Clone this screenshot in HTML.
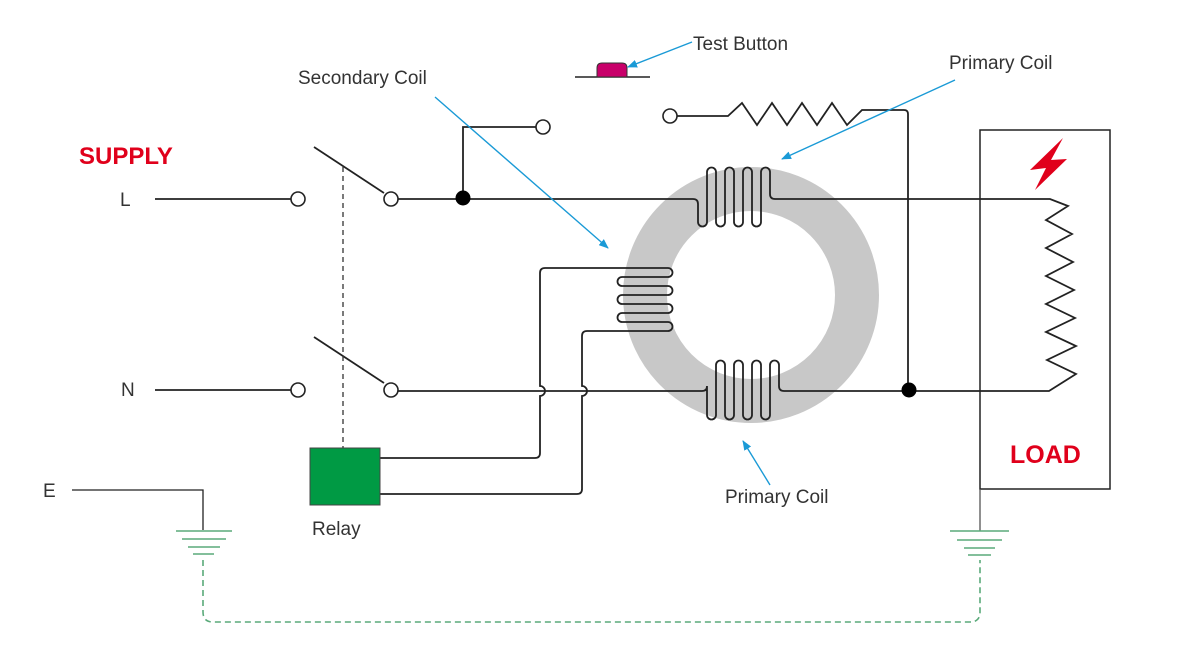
<!DOCTYPE html>
<html><head><meta charset="utf-8"><style>
body{margin:0;background:#fff}
svg{display:block}
text{font-family:"Liberation Sans",sans-serif}
</style></head><body>
<svg width="1200" height="661" viewBox="0 0 1200 661" xmlns="http://www.w3.org/2000/svg">
<defs><marker id="ar" markerWidth="10" markerHeight="8" refX="9" refY="4" orient="auto" markerUnits="userSpaceOnUse"><path d="M0,0 L10,4 L0,8 Z" fill="#1a9ad6"/></marker></defs>
<circle cx="751" cy="295" r="106" fill="none" stroke="#c8c8c8" stroke-width="44"/>
<g fill="none" stroke="#222" stroke-width="1.8">
<path d="M155 199 H291"/><path d="M398 199 H693 q5 0 5 5 V222 a4.5 4.5 0 0 0 9 0 V172 a4.5 4.5 0 0 1 9 0 V222 a4.5 4.5 0 0 0 9 0 V172 a4.5 4.5 0 0 1 9 0 V222 a4.5 4.5 0 0 0 9 0 V172 a4.5 4.5 0 0 1 9 0 V222 a4.5 4.5 0 0 0 9 0 V172 a4.5 4.5 0 0 1 9 0 V194 q0 5 5 5 H1050 L1068 206 L1046 220 L1072 234 L1046 248 L1073 262 L1046 276 L1074 290 L1046 304 L1075 318 L1046 332 L1076 346 L1047 360 L1076 374 L1049 391 H784 q-5 0 -5 -5 V365 a4.5 4.5 0 0 0 -9 0 V415 a4.5 4.5 0 0 1 -9 0 V365 a4.5 4.5 0 0 0 -9 0 V415 a4.5 4.5 0 0 1 -9 0 V365 a4.5 4.5 0 0 0 -9 0 V415 a4.5 4.5 0 0 1 -9 0 V365 a4.5 4.5 0 0 0 -9 0 V415 a4.5 4.5 0 0 1 -9 0 V386 q0 5 -5 5 H398"/>
<path d="M155 390 H291"/>
<path d="M314 147 L384 193"/><path d="M314 337 L384 383"/>
<path d="M463 199 V127 H536"/>
<path d="M677 116 H728 L742 103 L757 125 L772 103 L787 125 L802 103 L817 125 L832 103 L847 125 L862 110 H904 q4 0 4 4 V391"/>
<path d="M380 458 H535 q5 0 5 -5 V396 a5 5 0 0 0 0 -10 V273 q0 -5 5 -5 H668 a4.5 4.5 0 0 1 0 9 H622 a4.5 4.5 0 0 0 0 9 H668 a4.5 4.5 0 0 1 0 9 H622 a4.5 4.5 0 0 0 0 9 H668 a4.5 4.5 0 0 1 0 9 H622 a4.5 4.5 0 0 0 0 9 H668 a4.5 4.5 0 0 1 0 9 H587 q-5 0 -5 5 V386 a5 5 0 0 1 0 10 V489 q0 5 -5 5 H380"/>
<path d="M72 490 H203 V530" stroke-width="1.3"/>
<rect x="980" y="130" width="130" height="359" stroke-width="1.5"/>
<path d="M980 489 V531" stroke="#555" stroke-width="1.3"/>
<path d="M575 77 H650" stroke-width="1.5"/>
</g>
<path d="M343 167 V448" stroke="#333" stroke-width="1.3" stroke-dasharray="5,4" fill="none"/>
<g fill="#fff" stroke="#222" stroke-width="1.6">
<circle cx="298" cy="199" r="7"/><circle cx="391" cy="199" r="7"/>
<circle cx="298" cy="390" r="7"/><circle cx="391" cy="390" r="7"/>
<circle cx="543" cy="127" r="7"/><circle cx="670" cy="116" r="7"/>
</g>
<circle cx="463" cy="198" r="7.5" fill="#000"/><circle cx="909" cy="390" r="7.5" fill="#000"/>
<rect x="310" y="448" width="70" height="57" fill="#009a44" stroke="#444" stroke-width="1"/>
<path d="M597 77 V68 q0 -5 5 -5 H622 q5 0 5 5 V77 Z" fill="#c8006a" stroke="#333" stroke-width="1"/>
<g stroke="#5aaa7a" stroke-width="1.6" fill="none">
<path d="M176 531 H232 M182 539 H226 M188 547 H220 M193 554 H214"/>
<path d="M950 531 H1009 M957 540 H1002 M964 548 H995 M968 555 H991"/>
<path d="M203 560 V612 q0 10 10 10 H970 q10 0 10 -10 V560" stroke-dasharray="6,4"/>
</g>
<path d="M1063 138 L1030 170 L1046 168 L1035 190 L1067 159 L1051 160 Z" fill="#e0001b"/>
<g stroke="#1a9ad6" stroke-width="1.4" fill="none" marker-end="url(#ar)">
<path d="M692 42 L628 67"/><path d="M955 80 L782 159"/><path d="M435 97 L608 248"/><path d="M770 485 L743 441"/>
</g>
<g fill="#333" font-size="19">
<text x="120" y="206">L</text><text x="121" y="396">N</text><text x="43" y="497">E</text>
<text x="312" y="535">Relay</text><text x="298" y="84">Secondary Coil</text>
<text x="693" y="50">Test Button</text><text x="949" y="69">Primary Coil</text><text x="725" y="503">Primary Coil</text>
</g>
<text x="79" y="164" font-size="24" font-weight="bold" fill="#e0001b">SUPPLY</text>
<text x="1010" y="463" font-size="25" font-weight="bold" fill="#e0001b">LOAD</text>
</svg>
</body></html>
